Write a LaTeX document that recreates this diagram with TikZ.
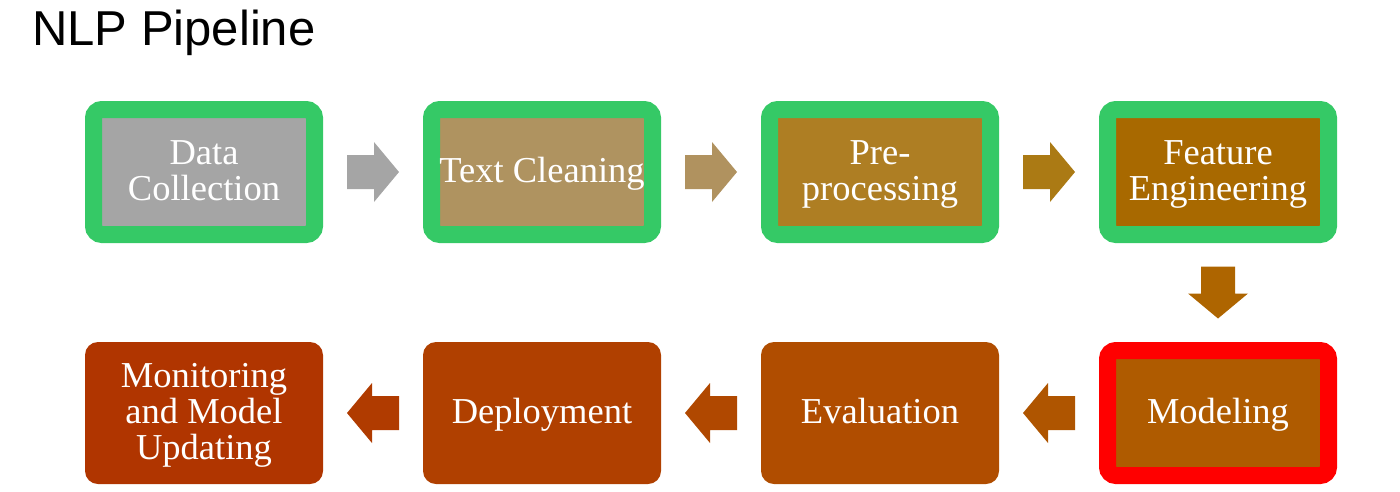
\documentclass[tikz,border=0pt]{standalone}
\usepackage{fontspec}
\setmainfont{Liberation Serif}
\newfontfamily\titlefont{Liberation Sans}
\usetikzlibrary{calc}
\definecolor{bordergreen}{HTML}{35C966}
\definecolor{borderred}{HTML}{FF0000}
\definecolor{cgrey}{HTML}{A5A5A5}
\definecolor{ctan}{HTML}{AF9360}
\definecolor{cpre}{HTML}{AE7E23}
\definecolor{cfe}{HTML}{A86900}
\definecolor{cmod}{HTML}{AF5B00}
\definecolor{ceval}{HTML}{B04D00}
\definecolor{cdep}{HTML}{B04000}
\definecolor{cmon}{HTML}{B03500}
\definecolor{aone}{HTML}{A5A5A5}
\definecolor{atwo}{HTML}{B0925F}
\definecolor{athree}{HTML}{AB7A14}
\definecolor{afour}{HTML}{AE6500}
\definecolor{afive}{HTML}{AF5500}
\definecolor{asix}{HTML}{B04800}
\definecolor{aseven}{HTML}{B03B00}
\newcommand\ls{\rule[-8pt]{0pt}{36pt}}
\newcommand\blockarrowbetween[4]{%
  \path ($(#1)!0.5!(#2)$) coordinate (m-#1-#2);
  \fill[#4, shift={(m-#1-#2)}, rotate=#3]
    (-26,-17) -- (1,-17) -- (1,-30) -- (26,0) -- (1,30) -- (1,17) -- (-26,17) -- cycle;}
\begin{document}
\begin{tikzpicture}[x=1pt,y=-1pt]
\useasboundingbox (0,0) rectangle (1400,491);
\tikzset{
  stepbox/.style={rounded corners=13pt, minimum width=238pt, minimum height=142pt,
    inner sep=0pt, outer sep=0pt, align=center, text=white,
    font=\fontsize{36.5}{36}\selectfont},
  framed/.style={stepbox, minimum width=221pt, minimum height=125pt,
    line width=17pt, rounded corners=8.5pt, draw=#1},
}
\node[anchor=base west, inner sep=0pt, font=\titlefont\fontsize{49}{49}\selectfont] (title) at (32,45) {NLP Pipeline};

\node[framed=bordergreen, fill=cgrey] (dc) at (204,172) {\ls Data\\\ls Collection};
\node[framed=bordergreen, fill=ctan] (tc) at (542,172) {\ls Text Cleaning};
\node[framed=bordergreen, fill=cpre] (pp) at (880,172) {\ls Pre-\\\ls processing};
\node[framed=bordergreen, fill=cfe] (fe) at (1218,172) {\ls Feature\\\ls Engineering};
\node[framed=borderred, fill=cmod] (mo) at (1218,413) {\ls Modeling};
\node[stepbox, fill=ceval] (ev) at (880,413) {\ls Evaluation};
\node[stepbox, fill=cdep] (de) at (542,413) {\ls Deployment};
\node[stepbox, fill=cmon] (mu) at (204,413) {\ls Monitoring\\\ls and Model\\\ls Updating};

\blockarrowbetween{dc}{tc}{0}{aone}
\blockarrowbetween{tc}{pp}{0}{atwo}
\blockarrowbetween{pp}{fe}{0}{athree}
\blockarrowbetween{fe}{mo}{-90}{afour}
\blockarrowbetween{mo}{ev}{180}{afive}
\blockarrowbetween{ev}{de}{180}{asix}
\blockarrowbetween{de}{mu}{180}{aseven}
\end{tikzpicture}
\end{document}
